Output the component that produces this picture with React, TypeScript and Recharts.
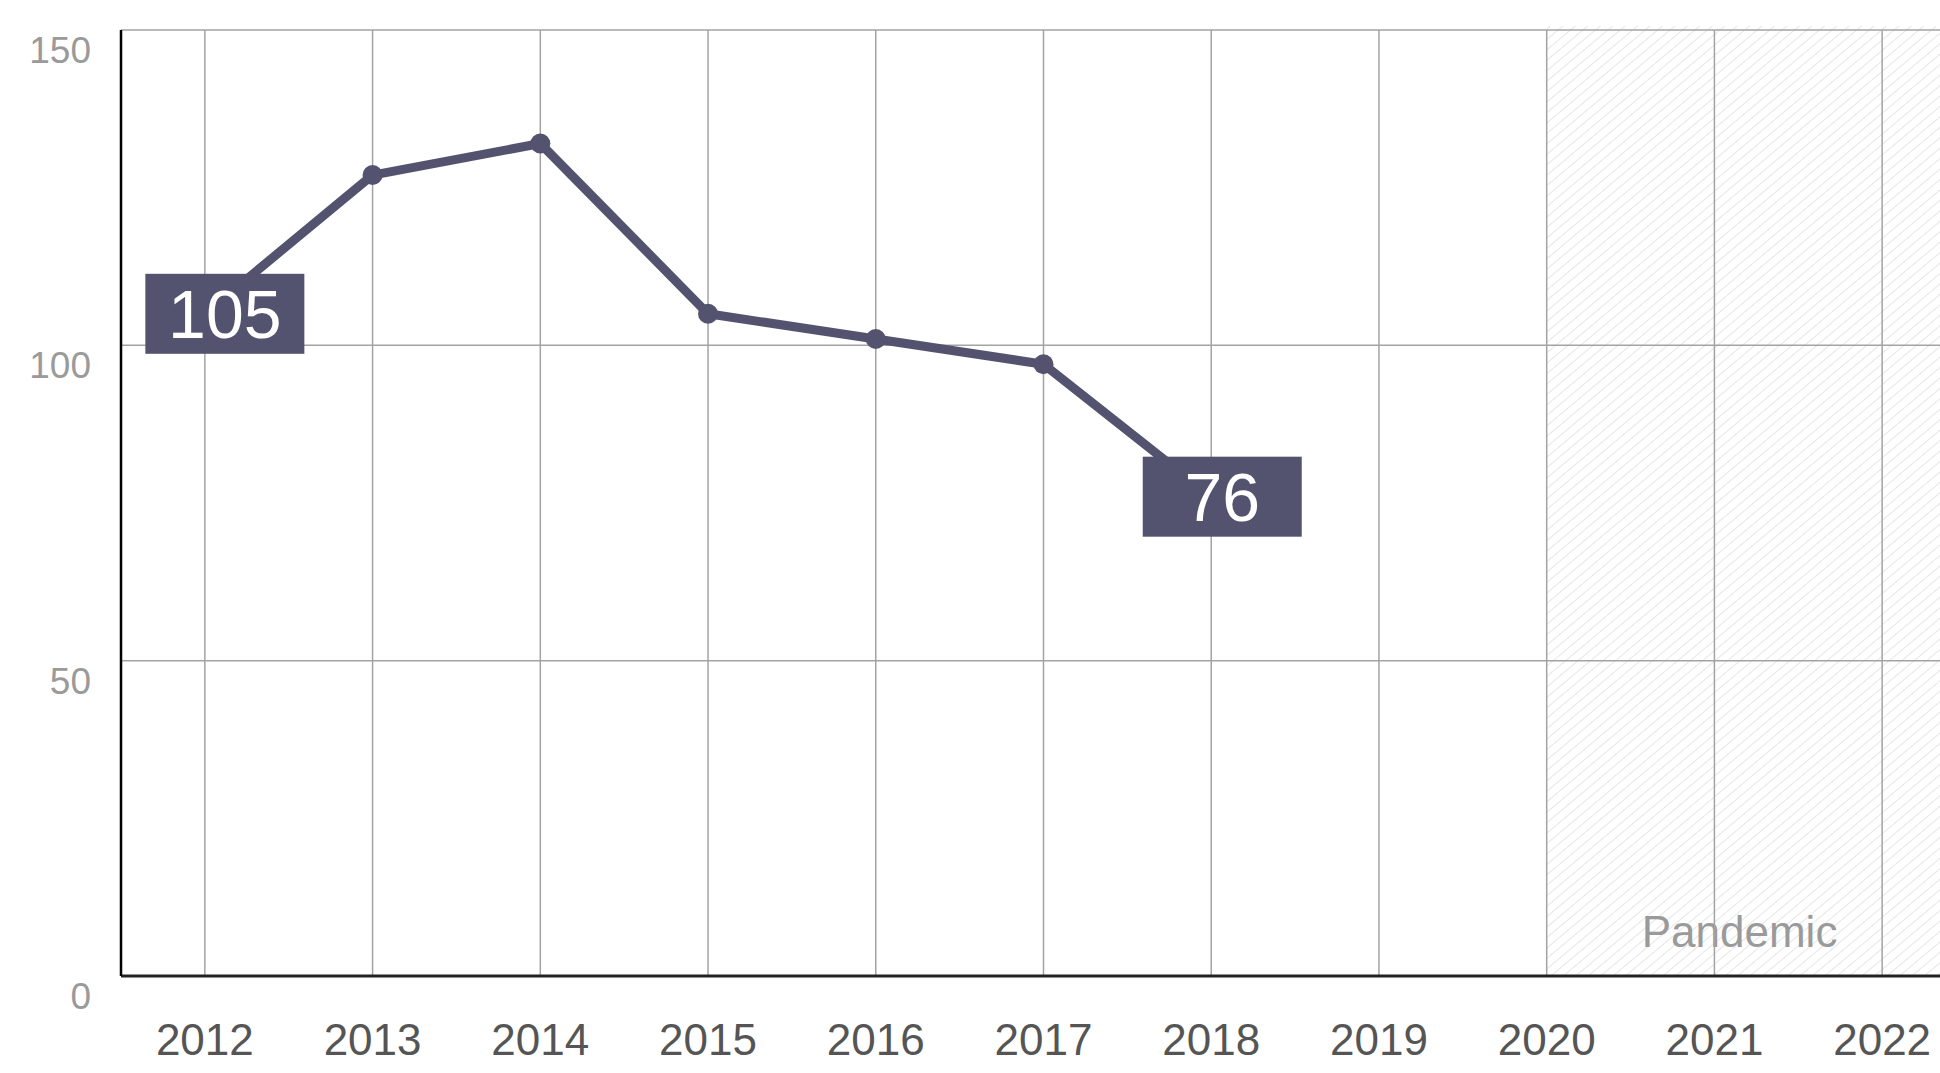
import { LineChart, Line, XAxis, YAxis, CartesianGrid, ReferenceArea, LabelList } from 'recharts';

const years = ['2012', '2013', '2014', '2015', '2016', '2017', '2018', '2019', '2020', '2021', '2022'];
const values: (number | null)[] = [105, 127, 132, 105, 101, 97, 76, null, null, null, null];
const yTicks = [0, 50, 100, 150];
const pandemicStart = '2020';
const pandemicEnd = '2022';
const pandemicLabel = 'Pandemic';

const data = years.map((year, i) => ({ year, value: values[i] }));

const INK = '#53536f';
const lastIndex = values.reduce<number>((acc, v, i) => (v == null ? acc : i), 0);

const YTick = ({ x, y, payload }: any) => (
  <text x={x} y={y + 20} dy="0.355em" textAnchor="end" fill="#9a9a9a" fontSize={37}>
    {payload.value}
  </text>
);

const EndLabel = ({ x, y, value, index }: any) => {
  if (index !== 0 && index !== lastIndex) return null;
  const cx = x + (index === 0 ? 20 : 11);
  return (
    <g>
      <rect x={cx - 79.5} y={y - 40} width={159} height={80} fill={INK} />
      <text x={cx} y={y} dy="0.36em" textAnchor="middle" fill="#fff" fontSize={68}>
        {value}
      </text>
    </g>
  );
};

// shaded span runs to the end of the last band, so stretch it by half a band
const PandemicShape = ({ x, y, width, height }: any) => {
  const half = width / 4;
  return (
    <g>
      <rect x={x} y={y - 4} width={width + half} height={height + 4} fill="url(#hatch)" />
      <text x={x + width * 0.575} y={y + height - 29} textAnchor="middle" fill="#9a9a9a" fontSize={44}>
        {pandemicLabel}
      </text>
    </g>
  );
};

export default function App() {
  return (
    <div
      style={{
        position: 'absolute',
        left: 0,
        top: 0,
        width: 1940,
        height: 1073,
        overflow: 'hidden',
        background: '#fff',
        fontFamily: '"Liberation Sans", Arial, Helvetica, sans-serif',
      }}
    >
      <LineChart width={1966} height={1073} data={data} margin={{ top: 30, right: 0, left: 0, bottom: 0 }}>
        <defs>
          <pattern id="hatch" width="8" height="8" patternUnits="userSpaceOnUse" patternTransform="rotate(50)">
            <line x1="0" y1="0" x2="0" y2="8" stroke="#e4e4e4" strokeWidth={1.8} />
          </pattern>
        </defs>
        <ReferenceArea x1={pandemicStart} x2={pandemicEnd} shape={<PandemicShape />} zIndex={-200} />
        <CartesianGrid stroke="#a3a3a3" strokeWidth={1.5} />
        <XAxis
          dataKey="year"
          padding={{ left: 83.85, right: 83.85 }}
          height={97}
          tickSize={0}
          tickMargin={48}
          tick={{ fontSize: 44, fill: '#555' }}
          axisLine={{ stroke: '#222', strokeWidth: 3 }}
          interval={0}
        />
        <YAxis
          domain={[0, 150]}
          ticks={yTicks}
          width={121}
          tickSize={0}
          tickMargin={30}
          tick={<YTick />}
          axisLine={{ stroke: '#000', strokeWidth: 2.5 }}
        />
        <Line
          type="linear"
          dataKey="value"
          stroke={INK}
          strokeWidth={9}
          strokeLinejoin="round"
          dot={{ r: 10, fill: INK, stroke: 'none' }}
          activeDot={false}
          isAnimationActive={false}
        >
          <LabelList dataKey="value" content={<EndLabel />} />
        </Line>
      </LineChart>
    </div>
  );
}
